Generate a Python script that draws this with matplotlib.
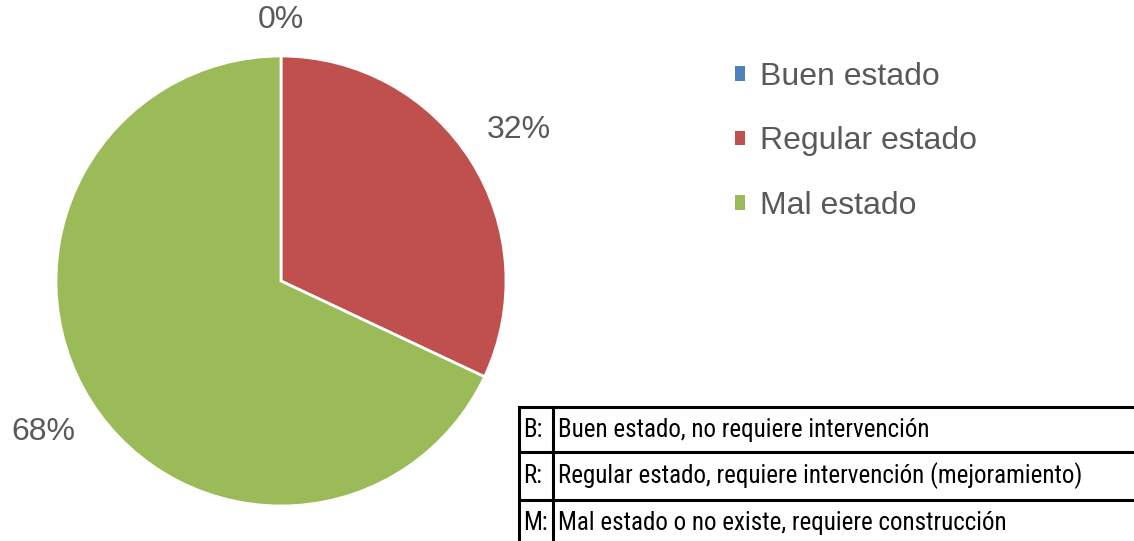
import matplotlib
matplotlib.use("Agg")
import matplotlib.pyplot as plt
from matplotlib.patches import Patch
import numpy as np

# datos
categorias = ["Buen estado", "Regular estado", "Mal estado"]
valores = [0, 32, 68]
colores = ["#4F81BD", "#C0504D", "#9BBB59"]

claves = ["B:", "R:", "M:"]
descripciones = ["Buen estado, no requiere intervención",
                 "Regular estado, requiere intervención (mejoramiento)",
                 "Mal estado o no existe, requiere construcción"]

W, H = 1134, 541
gris = "#595959"
plt.rcParams['font.family'] = ['Liberation Sans', 'DejaVu Sans']

fig = plt.figure(figsize=(W/100, H/100), dpi=100)

# pie
ax = fig.add_axes([56/W, 35/H, 450/W, 450/H])
wedges, texts, autotexts = ax.pie(valores, colors=colores, startangle=90,
                                  counterclock=False, radius=1,
                                  autopct='%1.0f%%', pctdistance=1.25,
                                  wedgeprops=dict(edgecolor='white', linewidth=2),
                                  textprops=dict(fontsize=23, color=gris))
ax.set_xlim(-1, 1)
ax.set_ylim(-1, 1)
ax.set_aspect('equal')
# 0% label sits closer to the pie
th = np.deg2rad((wedges[0].theta1 + wedges[0].theta2) / 2)
autotexts[0].set_position((1.16*np.cos(th), 1.16*np.sin(th)))

# legend
handles = [Patch(facecolor=c, edgecolor='none') for c in colores]
fig.legend(handles, categorias, loc='center left',
           bbox_to_anchor=(735/W, 1-141.5/H), frameon=False,
           fontsize=23, labelcolor=gris, borderpad=0, borderaxespad=0,
           handlelength=0.31, handleheight=0.31, handletextpad=0.47,
           labelspacing=1.08)

# tabla
tx = fig.add_axes([0, 0, 1, 1])
tx.set_xlim(0, W)
tx.set_ylim(H, 0)
tx.axis('off')
filas = [407, 452, 500]
for y in filas:
    tx.plot([519, W], [y, y], color='black', lw=2.2, solid_capstyle='butt')
tx.plot([519, 519], [407, H], color='black', lw=2.2)
tx.plot([553, 553], [407, H], color='black', lw=2.2)
fuente = ['Roboto Condensed', 'Liberation Sans Narrow', 'Roboto', 'DejaVu Sans']
for i, (k, d) in enumerate(zip(claves, descripciones)):
    yc = [430, 476, 523][i]
    tx.text(523, yc, k, fontsize=18, va='center', ha='left', family=fuente)
    tx.text(558, yc, d, fontsize=18, va='center', ha='left', family=fuente)

fig.savefig("out.png", dpi=100)
